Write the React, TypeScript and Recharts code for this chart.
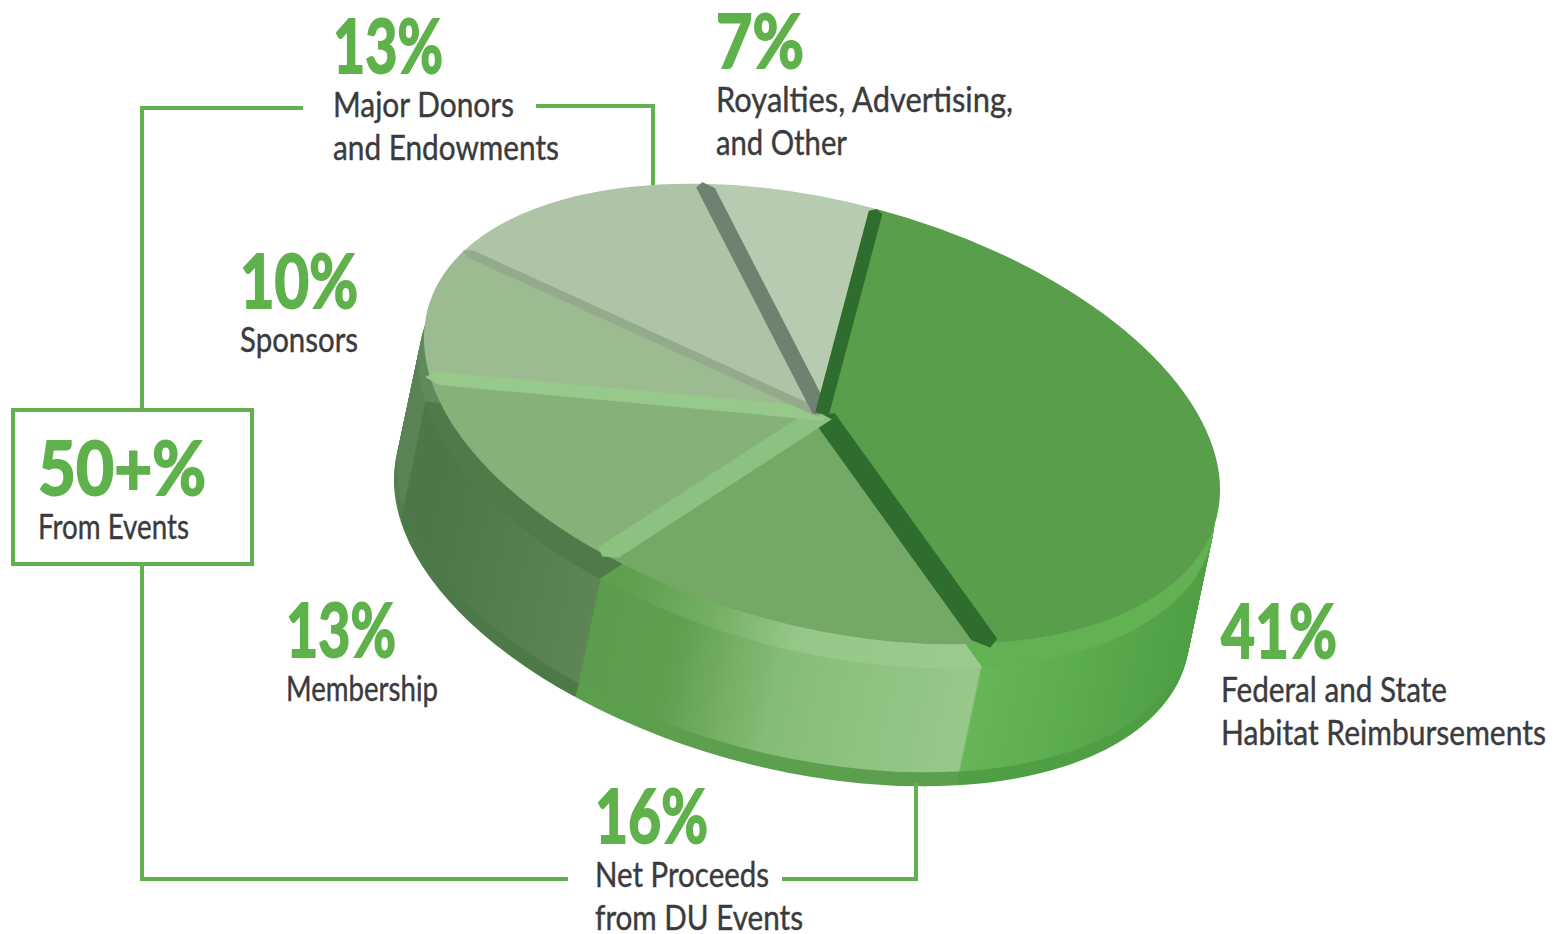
import { PieChart, Pie, Sector } from 'recharts'

const categories = [
  'Federal and State|Habitat Reimbursements',
  'Net Proceeds|from DU Events',
  'Membership',
  'Sponsors',
  'Major Donors|and Endowments',
  'Royalties, Advertising,|and Other',
]
const shares = [41, 16, 13, 10, 13, 7]

const topColors = ['#599f4b', '#73a865', '#86b27a', '#9cbb90', '#aec4a6', '#b6cbb0']
const seamColors = ['#2f6d2e', '#8cc27f', '#97ca8a', '#93aa8c', '#6e8272', '#2f6d2e']
const bevelColors = ['#62b152', 'url(#bevel1)', '#517a4b', '#5f8a5a', '#6f9069', '#6f9069']
const rimColors = ['#4f9f45', '#5c9f4e', '#4c7a48', '#557f50', '#557f50', '#557f50']
const seamWidths = [29, 24, 24, 16, 20, 14]

const GREEN = '#5fb14c'
const LINE = '#62b04f'
const INK = '#3b3b3d'
const FONT = 'Lato'
const TILT = 14.9
const SQUASH = 0.52
const BEVEL = 24
const DEPTH = 142
const SLANT = 30

const chartData = categories.map((name, i) => ({ name, value: shares[i] }))

// lift is how far below the top face a layer sits, on screen
function Tilted({ p, lift, children }: any) {
  const dx = -(lift / DEPTH) * SLANT
  return (
    <g
      transform={`translate(${p.cx + dx} ${p.cy + lift}) rotate(${TILT}) scale(1 ${SQUASH}) translate(${-p.cx} ${-p.cy})`}
    >
      {children}
    </g>
  )
}

function Face({ p, lift, fill }: any) {
  return (
    <Tilted p={p} lift={lift}>
      <Sector
        cx={p.cx}
        cy={p.cy}
        innerRadius={0}
        outerRadius={p.outerRadius}
        startAngle={p.startAngle}
        endAngle={p.endAngle}
        fill={fill}
        stroke="none"
      />
    </Tilted>
  )
}

// seam between this slice and the next one, drawn along the slice's closing edge
function Seam({ p, color, width }: any) {
  return (
    <Tilted p={p} lift={0}>
      <Sector
        cx={p.cx}
        cy={p.cy}
        innerRadius={0}
        outerRadius={p.outerRadius - 7}
        startAngle={p.endAngle + 0.01}
        endAngle={p.endAngle}
        fill="none"
        stroke={color}
        strokeWidth={width}
        strokeLinejoin="bevel"
      />
    </Tilted>
  )
}

const wallLifts: number[] = []
for (let d = DEPTH; d >= BEVEL; d -= 2) wallLifts.push(d)

const pieProps = {
  data: chartData,
  dataKey: 'value',
  cx: 822,
  cy: 414,
  outerRadius: 408,
  startAngle: 90,
  endAngle: -270,
  isAnimationActive: false,
}

function Callout({ pct, lines, x, y, w, lw }: any) {
  return (
    <g>
      <text
        x={x}
        y={y}
        fontFamily={FONT}
        fontWeight="bold"
        fontSize={74}
        fill={GREEN}
        stroke={GREEN}
        strokeWidth={2}
        textLength={w}
        lengthAdjust="spacingAndGlyphs"
      >
        {pct}
      </text>
      {lines.map((t: string, i: number) => (
        <text
          key={t}
          x={x}
          y={y + 44 + i * 43}
          fontFamily={FONT}
          fontSize={34}
          fill={INK}
          stroke={INK}
          strokeWidth={0.4}
          textLength={lw[i]}
          lengthAdjust="spacingAndGlyphs"
        >
          {t}
        </text>
      ))}
    </g>
  )
}

const linesOf = (i: number) => categories[i].split('|')

export default function App() {
  return (
    <div style={{ position: 'absolute', left: 0, top: 0, width: 1561, height: 934, background: '#fff' }}>
      <svg width={1561} height={934} style={{ position: 'absolute', left: 0, top: 0 }}>
        <defs>
          <linearGradient id="wall0" x1="0" x2="1" y1="0" y2="0">
            <stop offset="0.45" stopColor="#6ab95a" />
            <stop offset="0.75" stopColor="#5cad4e" />
            <stop offset="1" stopColor="#4f9f45" />
          </linearGradient>
          <linearGradient id="wall1" x1="0" x2="1" y1="0" y2="0">
            <stop offset="0" stopColor="#5c9c4e" />
            <stop offset="0.22" stopColor="#5f9f50" />
            <stop offset="0.5" stopColor="#84bd76" />
            <stop offset="1" stopColor="#98c98a" />
          </linearGradient>
          <linearGradient id="bevel1" x1="0" x2="1" y1="0" y2="0">
            <stop offset="0.08" stopColor="#5f9f50" />
            <stop offset="0.3" stopColor="#73b064" />
            <stop offset="0.52" stopColor="#95c786" />
            <stop offset="1" stopColor="#9dcc8e" />
          </linearGradient>
          <linearGradient id="wall2" x1="0" x2="1" y1="0" y2="0">
            <stop offset="0.1" stopColor="#4f7649" />
            <stop offset="0.6" stopColor="#5f8656" />
            <stop offset="1" stopColor="#668b60" />
          </linearGradient>
          <linearGradient id="wall3" x1="0" x2="1" y1="0" y2="0">
            <stop offset="0" stopColor="#5a8355" />
            <stop offset="1" stopColor="#6a8f65" />
          </linearGradient>
          <linearGradient id="wall4" x1="0" x2="1" y1="0" y2="0">
            <stop offset="0" stopColor="#5f8a5a" />
            <stop offset="1" stopColor="#6a8f65" />
          </linearGradient>
          <linearGradient id="wall5" x1="0" x2="1" y1="0" y2="0">
            <stop offset="0" stopColor="#6a8f65" />
            <stop offset="1" stopColor="#6a8f65" />
          </linearGradient>
        </defs>
      </svg>

      <PieChart
        width={1561}
        height={934}
        margin={{ top: 0, left: 0, right: 0, bottom: 0 }}
        style={{ position: 'absolute', left: 0, top: 0 }}
      >
        {wallLifts.map((lift) => (
          <Pie
            key={lift}
            {...pieProps}
            shape={(p: any) => (
              <Face
                p={p}
                lift={lift}
                fill={lift > DEPTH - 14 ? rimColors[p.index] : `url(#wall${p.index})`}
              />
            )}
          />
        ))}
        <Pie {...pieProps} shape={(p: any) => <Face p={p} lift={BEVEL} fill={bevelColors[p.index]} />} />
        <Pie {...pieProps} shape={(p: any) => <Face p={p} lift={0} fill={topColors[p.index]} />} />
        <Pie
          {...pieProps}
          shape={(p: any) => <Seam p={p} color={seamColors[p.index]} width={seamWidths[p.index]} />}
        />
      </PieChart>

      <svg width={1561} height={934} style={{ position: 'absolute', left: 0, top: 0 }}>
        <g fill="none" stroke={LINE} strokeWidth={4}>
          <polyline points="303,108 142,108 142,410" />
          <rect x={13} y={410} width={239} height={154} />
          <polyline points="142,564 142,879 568,879" />
          <polyline points="782,879 916,879 916,783" />
          <polyline points="536,106 653,106 653,185" />
        </g>
        <Callout pct={`${shares[4]}%`} lines={linesOf(4)} x={333} y={73} w={110} lw={[181, 226]} />
        <Callout pct={`${shares[5]}%`} lines={linesOf(5)} x={716} y={68} w={88} lw={[297, 131]} />
        <Callout pct={`${shares[3]}%`} lines={linesOf(3)} x={240} y={308} w={118} lw={[118]} />
        <Callout pct="50+%" lines={['From Events']} x={38} y={495} w={168} lw={[151]} />
        <Callout pct={`${shares[2]}%`} lines={linesOf(2)} x={286} y={657} w={110} lw={[152]} />
        <Callout pct={`${shares[0]}%`} lines={linesOf(0)} x={1221} y={658} w={116} lw={[226, 325]} />
        <Callout pct={`${shares[1]}%`} lines={linesOf(1)} x={595} y={843} w={113} lw={[174, 208]} />
      </svg>
    </div>
  )
}
